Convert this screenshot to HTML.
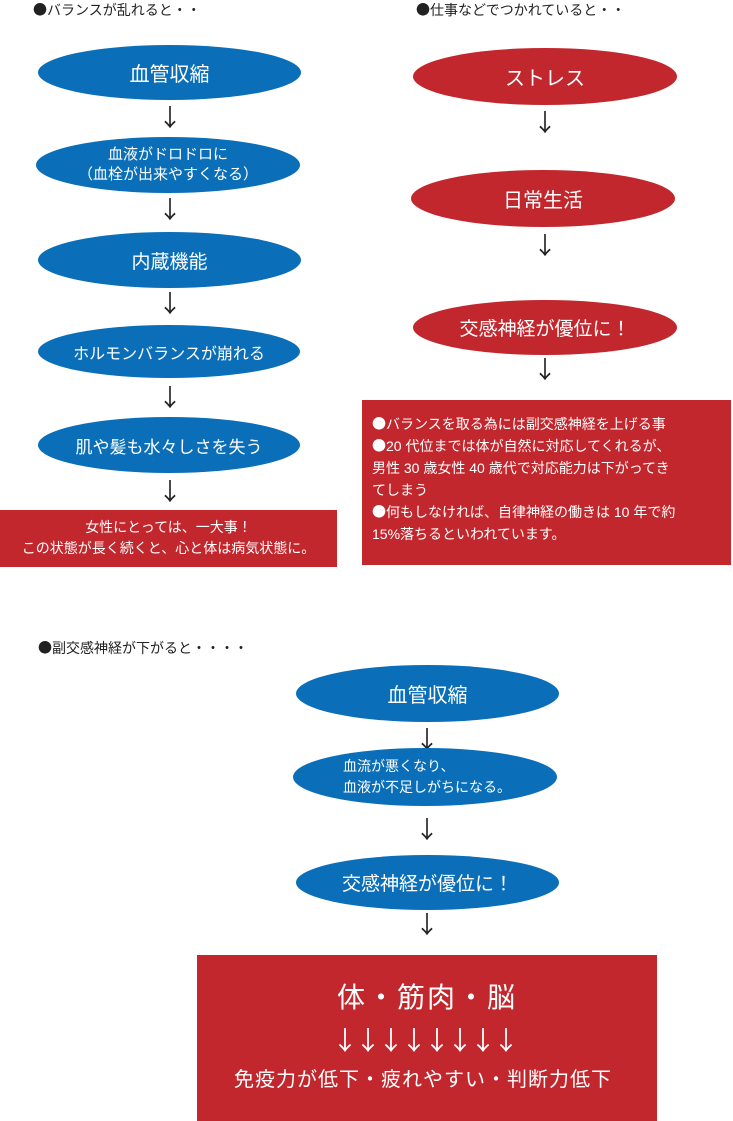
<!DOCTYPE html>
<html><head><meta charset="utf-8"><style>
body{margin:0;width:733px;height:1121px;background:#fff;position:relative;overflow:hidden;font-family:"Liberation Sans","Noto Sans CJK JP",sans-serif}
.a{position:absolute}
.e{position:absolute;border-radius:50%;color:#fff;display:flex;align-items:center;justify-content:center;text-align:center}
.b{background:#0a6fb8}.r{background:#c1272d}
.ar{position:absolute;font-family:"Noto Sans CJK JP",sans-serif;font-size:24px;line-height:24px;color:#222;width:30px;text-align:center}
.h{position:absolute;font-size:14px;color:#222;line-height:16px}
.d{font-family:"Noto Sans CJK JP",sans-serif}
</style></head><body>
<div class="h" style="left:33px;top:2px"><span class="d">●</span>バランスが乱れると・・</div>
<div class="h" style="left:416px;top:2px"><span class="d">●</span>仕事などでつかれていると・・</div>

<div class="e b" style="left:38px;top:45px;width:263px;height:55px;font-size:20px">血管収縮</div>
<div class="ar" style="left:155px;top:104px">↓</div>
<div class="e b" style="left:36px;top:137px;width:264px;height:56px;font-size:15px;line-height:20px">血液がドロドロに<br>（血栓が出来やすくなる）</div>
<div class="ar" style="left:155px;top:196px">↓</div>
<div class="e b" style="left:38px;top:232px;width:263px;height:56px;font-size:19px">内蔵機能</div>
<div class="ar" style="left:155px;top:290px">↓</div>
<div class="e b" style="left:38px;top:325px;width:262px;height:53px;font-size:16px">ホルモンバランスが崩れる</div>
<div class="ar" style="left:155px;top:384px">↓</div>
<div class="e b" style="left:38px;top:417px;width:262px;height:56px;font-size:17px">肌や髪も水々しさを失う</div>
<div class="ar" style="left:155px;top:478px">↓</div>
<div class="a r" style="left:0;top:510px;width:337px;height:57px;color:#fff;font-size:14px;line-height:21px;text-align:center;padding-top:7px;box-sizing:border-box">女性にとっては、一大事！<br>この状態が長く続くと、心と体は病気状態に。</div>

<div class="e r" style="left:413px;top:48px;width:264px;height:57px;font-size:20px">ストレス</div>
<div class="ar" style="left:530px;top:109px">↓</div>
<div class="e r" style="left:411px;top:170px;width:264px;height:57px;font-size:20px">日常生活</div>
<div class="ar" style="left:530px;top:232px">↓</div>
<div class="e r" style="left:413px;top:300px;width:264px;height:55px;font-size:19px">交感神経が優位に！</div>
<div class="ar" style="left:530px;top:356px">↓</div>
<div class="a r" style="left:362px;top:400px;width:369px;height:165px;color:#fff;font-size:14px;line-height:22px;padding:13px 0 0 10px;box-sizing:border-box"><span class="d">●</span>バランスを取る為には副交感神経を上げる事<br><span class="d">●</span>20 代位までは体が自然に対応してくれるが、<br>男性 30 歳女性 40 歳代で対応能力は下がってき<br>てしまう<br><span class="d">●</span>何もしなければ、自律神経の働きは 10 年で約<br>15%落ちるといわれています。</div>

<div class="h" style="left:38px;top:640px"><span class="d">●</span>副交感神経が下がると・・・・</div>
<div class="e b" style="left:296px;top:665px;width:263px;height:57px;font-size:20px">血管収縮</div>
<div class="ar" style="left:412px;top:726px">↓</div>
<div class="e b" style="left:293px;top:748px;width:264px;height:58px;font-size:14px;line-height:21px;justify-content:flex-start;text-align:left;padding-left:50px;box-sizing:border-box">血流が悪くなり、<br>血液が不足しがちになる。</div>
<div class="ar" style="left:412px;top:816px">↓</div>
<div class="e b" style="left:296px;top:855px;width:263px;height:55px;font-size:19px">交感神経が優位に！</div>
<div class="ar" style="left:412px;top:911px">↓</div>
<div class="a r" style="left:197px;top:955px;width:460px;height:166px;color:#fff;text-align:center">
<div style="position:absolute;left:0;right:0;top:27px;font-size:28px;line-height:32px;letter-spacing:2px">体・筋肉・脳</div>
<div class="d" style="position:absolute;left:0;right:0;top:70px;font-size:26px;line-height:30px;letter-spacing:-3px;padding-right:6px">↓↓↓↓↓↓↓↓</div>
<div style="position:absolute;left:0;right:0;top:113px;font-size:20px;line-height:24px;letter-spacing:1px;padding-right:8px">免疫力が低下・疲れやすい・判断力低下</div>
</div>
</body></html>
